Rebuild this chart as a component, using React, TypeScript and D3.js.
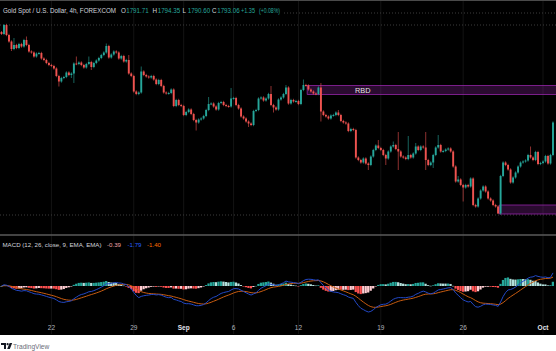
import React from 'react';
import * as d3 from 'd3';

const W = 556;
const H = 351;

const firstOpen = 1839.5;
const closes = [
  1838.5, 1843, 1838, 1834.75, 1831, 1833, 1831.5, 1833.5, 1832.25, 1835.5,
  1833, 1829.75, 1829.25, 1827.25, 1828.75, 1829, 1826.25, 1825.5, 1824, 1823,
  1822.5, 1821.25, 1817.5, 1814.75, 1816.5, 1817, 1819.25, 1818, 1818.75, 1823.75,
  1823.5, 1824.25, 1823, 1821.75, 1823.5, 1824.5, 1822, 1824, 1825.25, 1826.5,
  1828, 1829.25, 1832.5, 1826.75, 1828.25, 1829.75, 1829.25, 1826.25, 1827.5, 1824.75,
  1825.5, 1818.75, 1817.5, 1809.75, 1808.5, 1809.25, 1819.75, 1818, 1817.25, 1816.75,
  1817.5, 1815.75, 1813.5, 1815.5, 1812.5, 1809.25, 1808.75, 1809, 1810.75, 1802.5,
  1805.5, 1803, 1802.5, 1798, 1799.5, 1800.75, 1798.5, 1795.5, 1794.25, 1795.75,
  1796.25, 1797.5, 1800.5, 1803.5, 1803.75, 1802.25, 1800.75, 1804, 1804.5, 1803,
  1802.5, 1802.25, 1806.25, 1806.5, 1803, 1801.25, 1797.25, 1796.25, 1794.75, 1793.75,
  1793, 1800, 1800.5, 1806.25, 1806.75, 1805.25, 1806.25, 1808.5, 1803, 1801.75,
  1800.75, 1805.75, 1806.75, 1808.5, 1811.75, 1803.75, 1805.5, 1804.75, 1805, 1803.5,
  1810.5, 1813, 1812.75, 1810.75, 1809.75, 1808.75, 1808.5, 1811.75, 1799.75, 1798,
  1797.25, 1796.25, 1797.75, 1798, 1799.25, 1798, 1795, 1794.25, 1793.75, 1790,
  1791, 1790.5, 1776.75, 1775.5, 1774.25, 1776.25, 1773.75, 1773, 1777.25, 1780.5,
  1782.75, 1781.5, 1780.5, 1778, 1776.25, 1779.75, 1782.25, 1783, 1781, 1779.75,
  1777.25, 1776.75, 1776, 1778, 1776.75, 1778.75, 1782.25, 1780.5, 1782.25, 1781.75,
  1775.5, 1773, 1774.25, 1778, 1781.75, 1783, 1779.75, 1780, 1780.75, 1781.25,
  1779.75, 1772.25, 1764.75, 1765.75, 1763, 1761.75, 1763, 1762.25, 1766.25, 1753,
  1752.25, 1756.25, 1760.25, 1762.25, 1759.75, 1756.25, 1755.25, 1753, 1752.25, 1748.75,
  1767.5, 1774.25, 1773, 1770.75, 1764.25, 1766.75, 1769.25, 1772.25, 1774.25, 1774.75,
  1775.25, 1778, 1776.75, 1775.5, 1779.5, 1773.5, 1774, 1774.75, 1777.5, 1773.75,
  1778, 1794.25,
];

// visible long wicks: [candle index, price]
const wickHighs: [number, number][] = [
  [0, 1840], [1, 1843.5], [5, 1836.5], [10, 1837.25], [30, 1827.25], [35, 1827.25],
  [42, 1833.75], [51, 1828], [56, 1822.25], [83, 1807], [92, 1811.5], [108, 1812.5],
  [114, 1813], [121, 1815.75], [128, 1814], [135, 1800.5], [151, 1785.5], [157, 1784.75],
  [159, 1789.5], [163, 1787.5], [166, 1784], [170, 1789.5], [175, 1788], [183, 1767.5],
  [212, 1782.25],
];
const wickLows: [number, number][] = [
  [0, 1838], [4, 1830], [23, 1812.25], [28, 1816.5], [29, 1814], [36, 1820.5],
  [78, 1790.25], [99, 1792], [109, 1799.25], [128, 1794.75], [147, 1770.5], [154, 1773],
  [159, 1770.5], [170, 1770.5], [173, 1771.5], [185, 1754.75], [199, 1748.5],
];

const tickLabels = ['22', '29', 'Sep', '6', '12', '19', '26', 'Oct'];
const tickIndex = [20, 53, 73, 93, 119, 152, 185, 217];
const monthLabels = ['Sep', 'Oct'];

// supply / demand zones
const zoneStart = [123, 200];
const zoneTop = [1812.75, 1753];
const zoneBottom = [1808.25, 1748.5];
const zoneLabel = ['RBD', ''];

const levelLines = [1849, 1843, 1748];

const legendKeys = ['O', 'H', 'L', 'C'];
const legendValues = ['1791.71', '1794.35', '1790.60', '1793.06'];
const legendChange = '+1.35';
const legendPct = '(+0.08%)';
const macdValues = ['-0.39', '-1.79', '-1.40'];

const UP = '#26a69a';
const DOWN = '#ef5350';

function ema(vals: number[], p: number) {
  const k = 2 / (p + 1);
  const out: number[] = [];
  let prev = vals[0];
  vals.forEach((v, i) => {
    prev = i === 0 ? v : v * k + prev * (1 - k);
    out.push(prev);
  });
  return out;
}

export default function App() {
  const N = closes.length;
  const opens = closes.map((c, i) => (i === 0 ? firstOpen : closes[i - 1]));
  const hiMap = new Map(wickHighs);
  const loMap = new Map(wickLows);
  const highs = closes.map((c, i) => hiMap.get(i) ?? Math.max(c, opens[i]) + 0.6);
  const lows = closes.map((c, i) => loMap.get(i) ?? Math.min(c, opens[i]) - 0.6);

  const x = d3.scaleLinear().domain([0, N - 1]).range([1.5, 553]);
  const y = d3.scaleLinear().domain([1748, 1843]).range([215, 25]);
  const step = x(1) - x(0);
  const bw = step * 0.76;

  const e12 = ema(closes, 12);
  const e26 = ema(closes, 26);
  const macd = e12.map((v, i) => v - e26[i]);
  const signal = ema(macd, 9);
  const hist = macd.map((v, i) => v - signal[i]);
  const minVal = d3.min([...macd, ...signal, ...hist]) as number;
  const ym = d3.scaleLinear().domain([minVal, 0]).range([312, 286]);

  const line = d3
    .line<number>()
    .x((_, i) => x(i))
    .y((d) => ym(d));

  const histColor = (i: number) => {
    const h = hist[i];
    const prev = i > 0 ? hist[i - 1] : h;
    if (h >= 0) return h > prev ? '#26a69a' : '#b2dfdb';
    return h > prev ? '#ffcdd2' : '#ff5252';
  };

  const font = "'Liberation Sans', Arial, sans-serif";
  const legendX = [121, 152.5, 182.5, 212];

  return (
    <svg width={W} height={H} style={{ position: 'fixed', left: 0, top: 0 }} fontFamily={font}>
      <defs>
        <clipPath id="mainClip">
          <rect x={0} y={1} width={W} height={233} />
        </clipPath>
        <clipPath id="macdClip">
          <rect x={0} y={236} width={W} height={98} />
        </clipPath>
      </defs>
      <rect x={0} y={0} width={W} height={H} fill="#ffffff" />
      <rect x={0} y={0} width={W} height={335} fill="#000000" />
      <line x1={0} x2={W} y1={0.5} y2={0.5} stroke="#4a4a4a" />

      {/* vertical grid */}
      {tickIndex.map((ti, k) => (
        <line key={'g' + k} x1={x(ti)} x2={x(ti)} y1={1} y2={334} stroke="#131313" strokeWidth={1} />
      ))}

      {/* level dotted lines */}
      {levelLines.map((p, k) => (
        <line
          key={'lv' + k}
          x1={k === 0 ? 284 : 0}
          x2={W}
          y1={y(p)}
          y2={y(p)}
          stroke="#3c3c3c"
          strokeWidth={1}
          strokeDasharray="1,2"
        />
      ))}

      <g clipPath="url(#mainClip)">
        {zoneStart.map((s, k) => {
          const x0 = x(s) - step / 2;
          const y0 = y(zoneTop[k]);
          const y1 = y(zoneBottom[k]);
          return (
            <g key={'z' + k}>
              <rect x={x0} y={y0} width={W - x0} height={y1 - y0} fill="#9c27b0" fillOpacity={0.27} />
              <line x1={x0} x2={W} y1={y0} y2={y0} stroke="#9c27b0" strokeOpacity={0.75} />
              <line x1={x0} x2={W} y1={y1} y2={y1} stroke="#9c27b0" strokeOpacity={0.75} />
              <line x1={x0} x2={x0} y1={y0} y2={y1} stroke="#9c27b0" strokeOpacity={0.75} />
              {zoneLabel[k] && (
                <text
                  x={355}
                  y={(y0 + y1) / 2 + 2.6}
                  fontSize={7.3}
                  fill="#e6e6e6"
                  textLength={15.5}
                  lengthAdjust="spacingAndGlyphs"
                >
                  {zoneLabel[k]}
                </text>
              )}
            </g>
          );
        })}

        {closes.map((c, i) => {
          const o = opens[i];
          const up = c >= o;
          const col = up ? UP : DOWN;
          const top = y(Math.max(o, c));
          const bot = y(Math.min(o, c));
          return (
            <g key={'c' + i}>
              <line x1={x(i)} x2={x(i)} y1={y(highs[i])} y2={y(lows[i])} stroke={col} strokeOpacity={0.75} strokeWidth={0.8} />
              <rect x={x(i) - bw / 2} y={top} width={bw} height={Math.max(1, bot - top)} fill={col} />
            </g>
          );
        })}
      </g>

      {/* pane separator */}
      <line x1={0} x2={W} y1={235} y2={235} stroke="#5a5a5a" strokeWidth={1.5} />

      {/* MACD pane */}
      <g clipPath="url(#macdClip)">
        {hist.map((h, i) => {
          const y0 = ym(0);
          const y1 = ym(h);
          return (
            <rect
              key={'h' + i}
              x={x(i) - step / 2}
              y={Math.min(y0, y1)}
              width={step * 0.9}
              height={Math.max(0.5, Math.abs(y1 - y0))}
              fill={histColor(i)}
            />
          );
        })}
        <path d={line(signal) || ''} fill="none" stroke="#c85c10" strokeWidth={1} />
        <path d={line(macd) || ''} fill="none" stroke="#2349c8" strokeWidth={1} />
      </g>

      {/* title legend */}
      <text x={3} y={13} fontSize={6.3} fill="#d1d4dc" textLength={113} lengthAdjust="spacingAndGlyphs">
        Gold Spot / U.S. Dollar, 4h, FOREXCOM
      </text>
      {legendKeys.map((k, j) => (
        <g key={k}>
          <text x={legendX[j]} y={13} fontSize={6.3} fill="#d1d4dc">
            {k}
          </text>
          <text x={legendX[j] + 5.2} y={13} fontSize={6.3} fill={UP} textLength={22.5} lengthAdjust="spacingAndGlyphs">
            {legendValues[j]}
          </text>
        </g>
      ))}
      <text x={241} y={13} fontSize={6.3} fill={UP} textLength={14} lengthAdjust="spacingAndGlyphs">
        {legendChange}
      </text>
      <text x={259} y={13} fontSize={6.3} fill={UP} textLength={21} lengthAdjust="spacingAndGlyphs">
        {legendPct}
      </text>

      {/* MACD legend */}
      <text x={2.5} y={247} fontSize={6.2} fill="#d1d4dc" textLength={99} lengthAdjust="spacingAndGlyphs">
        MACD (12, 26, close, 9, EMA, EMA)
      </text>
      <text x={107} y={247} fontSize={6.2} fill="#f4a6a6" textLength={14} lengthAdjust="spacingAndGlyphs">
        {macdValues[0]}
      </text>
      <text x={127.5} y={247} fontSize={6.2} fill="#2962ff" textLength={14} lengthAdjust="spacingAndGlyphs">
        {macdValues[1]}
      </text>
      <text x={147} y={247} fontSize={6.2} fill="#ff6d00" textLength={14} lengthAdjust="spacingAndGlyphs">
        {macdValues[2]}
      </text>

      {/* time axis */}
      {tickIndex.map((ti, k) => (
        <text
          key={'t' + k}
          x={x(ti)}
          y={329.5}
          fontSize={6.5}
          textAnchor="middle"
          fill={monthLabels.includes(tickLabels[k]) ? '#e0e3eb' : '#b2b5be'}
          fontWeight={monthLabels.includes(tickLabels[k]) ? 'bold' : 'normal'}
        >
          {tickLabels[k]}
        </text>
      ))}

      {/* TradingView logo */}
      <g fill="#131722">
        <path d="M1 343 h5 v6 h-2 v-4 h-3 z" />
        <circle cx={7.6} cy={344.2} r={1.1} />
        <path d="M9.6 343 h2.6 l-2.4 6 h-2.6 z" />
      </g>
      <text x={13} y={348.5} fontSize={6.6} fill="#6a6d78">
        TradingView
      </text>
    </svg>
  );
}
